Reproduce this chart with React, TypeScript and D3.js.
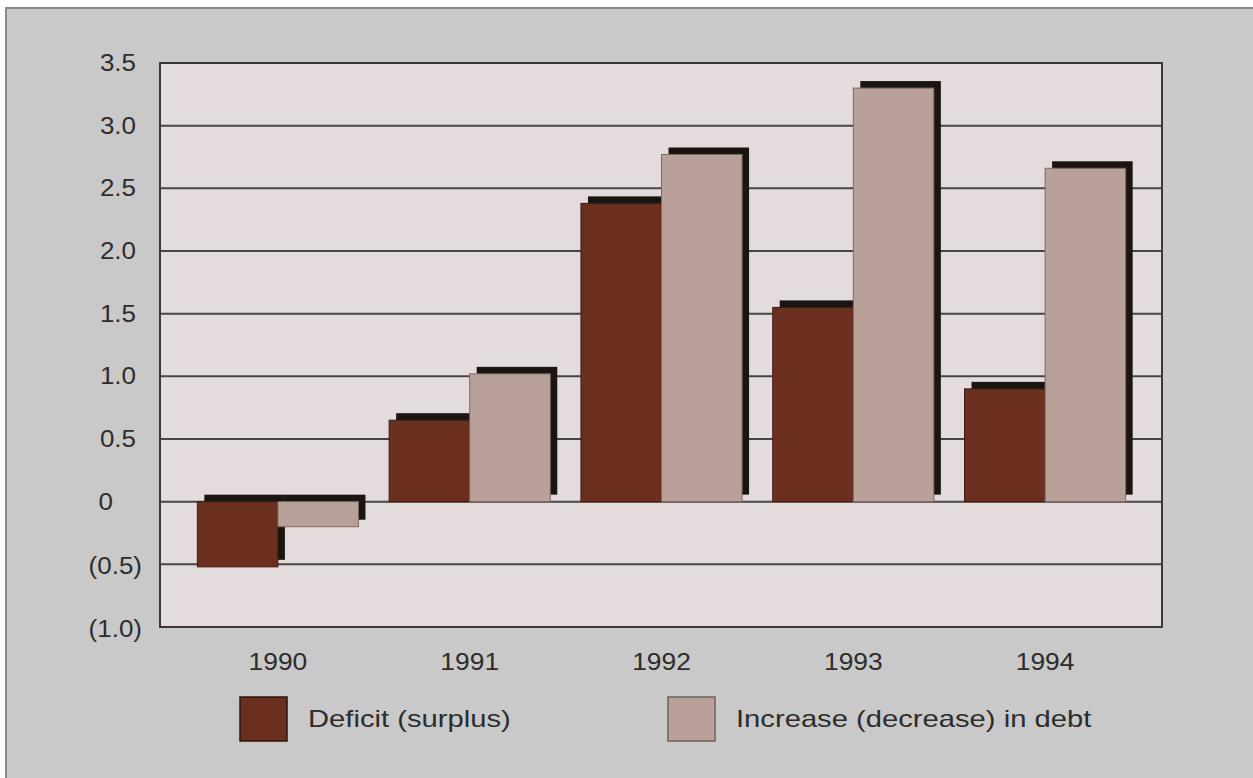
import React from "react";
import * as d3 from "d3";

// Annual figures, in billions
const years = ["1990", "1991", "1992", "1993", "1994"];
const deficit = [-0.52, 0.65, 2.38, 1.55, 0.9];
const debtChange = [-0.2, 1.02, 2.77, 3.3, 2.66];
const seriesNames = ["Deficit (surplus)", "Increase (decrease) in debt"];
const yTicks = [3.5, 3.0, 2.5, 2.0, 1.5, 1.0, 0.5, 0, -0.5, -1.0];

const W = 1253;
const H = 778;
const plot = { left: 160, right: 1162, top: 63, bottom: 627 };
const colors = ["#6a2f1f", "#b9a199"];
const strokes = ["#3e1c12", "#7d6a63"];
const shadowColor = "#1b1512";
const shadowDx = 7;
const shadowDy = -7;
const font = "'Liberation Sans', Arial, sans-serif";
const textColor = "#2e2c2c";

function fmtTick(v: number): string {
  if (v === 0) return "0";
  const s = Math.abs(v).toFixed(1);
  return v < 0 ? `(${s})` : s;
}

// Horizontally widened label, anchored at (x, y)
function WideText(props: {
  x: number;
  y: number;
  sx: number;
  size: number;
  anchor: "start" | "middle" | "end";
  children: string;
}) {
  const { x, y, sx, size, anchor, children } = props;
  return (
    <text
      transform={`translate(${x},${y}) scale(${sx},1)`}
      textAnchor={anchor}
      dominantBaseline="central"
      fontFamily={font}
      fontSize={size}
      fill={textColor}
    >
      {children}
    </text>
  );
}

export default function App() {
  const y = d3.scaleLinear().domain([-1, 3.5]).range([plot.bottom, plot.top]);
  const x = d3
    .scaleBand<string>()
    .domain(years)
    .range([182, 1141])
    .paddingInner(0.16)
    .paddingOuter(0.08);
  const sub = d3
    .scaleBand<number>()
    .domain([0, 1])
    .range([0, x.bandwidth()]);

  const bars = years.flatMap((yr, i) =>
    [deficit[i], debtChange[i]].map((v, s) => {
      const x0 = (x(yr) ?? 0) + (sub(s) ?? 0);
      const y0 = y(Math.max(0, v));
      const h = Math.abs(y(v) - y(0));
      return { key: `${yr}-${s}`, s, x0, y0, w: sub.bandwidth(), h };
    })
  );

  // tick label anchoring: positives end at 136, negatives hang a bracket further
  const tickX = (t: number) => (t === 0 ? 113 : t < 0 ? 142 : 136);

  return (
    <svg
      width={W}
      height={H}
      style={{ position: "absolute", left: 0, top: 0, background: "#ffffff" }}
    >
      <rect x={6} y={8} width={W + 10} height={H + 10} fill="#c9c9c9" stroke="#8a8a8a" strokeWidth={2} />

      <rect
        x={plot.left}
        y={plot.top}
        width={plot.right - plot.left}
        height={plot.bottom - plot.top}
        fill="#e4dcdc"
      />

      {yTicks.map((t) => (
        <line
          key={`g${t}`}
          x1={plot.left}
          x2={plot.right}
          y1={y(t)}
          y2={y(t)}
          stroke="#4a4444"
          strokeWidth={2}
        />
      ))}

      {/* drop shadows behind every bar */}
      {bars.map((b) => (
        <rect
          key={`sh${b.key}`}
          x={b.x0 + shadowDx}
          y={b.y0 + shadowDy}
          width={b.w}
          height={b.h}
          fill={shadowColor}
        />
      ))}

      {bars.map((b) => (
        <rect
          key={`b${b.key}`}
          x={b.x0}
          y={b.y0}
          width={b.w}
          height={b.h}
          fill={colors[b.s]}
          stroke={strokes[b.s]}
          strokeWidth={1}
        />
      ))}

      <rect
        x={plot.left}
        y={plot.top}
        width={plot.right - plot.left}
        height={plot.bottom - plot.top}
        fill="none"
        stroke="#3d3838"
        strokeWidth={2}
      />

      {yTicks.map((t) => (
        <WideText key={`t${t}`} x={tickX(t)} y={y(t) + (t < 0 ? 2 : 0)} sx={1.13} size={23} anchor="end">
          {fmtTick(t)}
        </WideText>
      ))}

      {years.map((yr) => (
        <WideText
          key={`x${yr}`}
          x={(x(yr) ?? 0) + x.bandwidth() / 2}
          y={661}
          sx={1.1}
          size={24}
          anchor="middle"
        >
          {yr}
        </WideText>
      ))}

      {seriesNames.map((name, s) => {
        const lx = s === 0 ? 240 : 668;
        return (
          <g key={name}>
            <rect
              x={lx}
              y={697}
              width={47}
              height={44}
              fill={colors[s]}
              stroke={s === 0 ? "#2a1610" : "#6e605a"}
              strokeWidth={1.5}
            />
            <WideText x={lx + 68} y={719} sx={1.27} size={23} anchor="start">
              {name}
            </WideText>
          </g>
        );
      })}
    </svg>
  );
}
